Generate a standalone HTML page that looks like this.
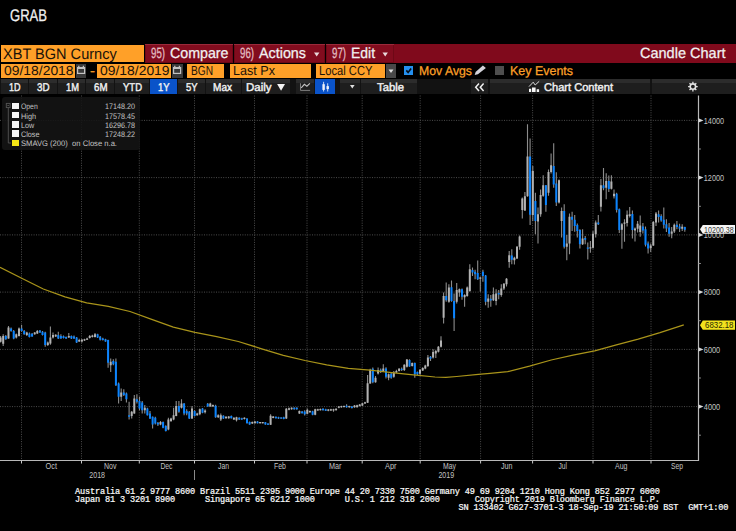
<!DOCTYPE html>
<html><head><meta charset="utf-8"><title>GRAB</title>
<style>
html,body{margin:0;padding:0;background:#000;}
body{width:736px;height:531px;position:relative;overflow:hidden;font-family:"Liberation Sans",sans-serif;}
.b{position:absolute;}
.t{position:absolute;line-height:1;text-rendering:geometricPrecision;white-space:nowrap;transform-origin:0 0;display:inline-block;}
#foot{position:absolute;left:75px;top:487.9px;margin:0;font-family:"Liberation Mono",monospace;font-size:8.6px;line-height:8px;letter-spacing:-0.16px;color:#fafafa;white-space:pre;-webkit-text-stroke:0.22px #fafafa;}
</style></head><body>
<div class="b" style="left:145px;top:44px;width:591px;height:18.7px;background:#800a1c;"></div>
<div class="b" style="left:1px;top:44.9px;width:143px;height:17.1px;background:#ffa028;"></div>
<div class="b" style="left:145px;top:44px;width:87.8px;height:18.7px;background:#820c1e;box-shadow:inset 0 1px 0 #9a2a3a, inset 0 0 0 1px #6e0816;"></div>
<div class="b" style="left:234px;top:44px;width:90.6px;height:18.7px;background:#820c1e;box-shadow:inset 0 1px 0 #9a2a3a, inset 0 0 0 1px #6e0816;"></div>
<div class="b" style="left:326px;top:44px;width:67.5px;height:18.7px;background:#820c1e;box-shadow:inset 0 1px 0 #9a2a3a, inset 0 0 0 1px #6e0816;"></div>
<div class="b" style="left:232.6px;top:44px;width:1.4px;height:18.7px;background:#0a0002;"></div>
<div class="b" style="left:324.6px;top:44px;width:1.4px;height:18.7px;background:#0a0002;"></div>
<div class="b" style="left:1px;top:63.8px;width:74.2px;height:14.1px;background:#ffa028;"></div>
<div class="b" style="left:75.8px;top:63.8px;width:10.5px;height:14.1px;background:#3a3a3a;"></div>
<div class="b" style="left:97px;top:63.8px;width:74px;height:14.1px;background:#ffa028;"></div>
<div class="b" style="left:171.8px;top:63.8px;width:10.9px;height:14.1px;background:#3a3a3a;"></div>
<div class="b" style="left:187.3px;top:63.8px;width:37.2px;height:14.1px;background:#ffa028;"></div>
<div class="b" style="left:229.7px;top:63.8px;width:81.8px;height:14.1px;background:#ffa028;"></div>
<div class="b" style="left:316.4px;top:63.8px;width:69px;height:14.1px;background:#ffa028;"></div>
<div class="b" style="left:386px;top:63.8px;width:10.3px;height:14.1px;background:#484848;"></div>
<div class="b" style="left:404.4px;top:66.2px;width:8.7px;height:8.8px;background:#2490f0;"></div>
<div class="b" style="left:495.3px;top:66.2px;width:9px;height:8.8px;background:#4e4e4e;"></div>
<div class="b" style="left:0px;top:79.4px;width:736px;height:14.9px;background:#121212;"></div>
<div class="b" style="left:1px;top:79.4px;width:27px;height:14.9px;background:linear-gradient(#2c2c2c 0,#2c2c2c 30%,#1e1e1e 30%,#1e1e1e 100%);"></div>
<div class="b" style="left:29px;top:79.4px;width:27.5px;height:14.9px;background:linear-gradient(#2c2c2c 0,#2c2c2c 30%,#1e1e1e 30%,#1e1e1e 100%);"></div>
<div class="b" style="left:57.5px;top:79.4px;width:27.5px;height:14.9px;background:linear-gradient(#2c2c2c 0,#2c2c2c 30%,#1e1e1e 30%,#1e1e1e 100%);"></div>
<div class="b" style="left:86px;top:79.4px;width:28px;height:14.9px;background:linear-gradient(#2c2c2c 0,#2c2c2c 30%,#1e1e1e 30%,#1e1e1e 100%);"></div>
<div class="b" style="left:115px;top:79.4px;width:34px;height:14.9px;background:linear-gradient(#2c2c2c 0,#2c2c2c 30%,#1e1e1e 30%,#1e1e1e 100%);"></div>
<div class="b" style="left:178px;top:79.4px;width:27px;height:14.9px;background:linear-gradient(#2c2c2c 0,#2c2c2c 30%,#1e1e1e 30%,#1e1e1e 100%);"></div>
<div class="b" style="left:206px;top:79.4px;width:34.5px;height:14.9px;background:linear-gradient(#2c2c2c 0,#2c2c2c 30%,#1e1e1e 30%,#1e1e1e 100%);"></div>
<div class="b" style="left:241.5px;top:79.4px;width:48.5px;height:14.9px;background:linear-gradient(#2c2c2c 0,#2c2c2c 30%,#1e1e1e 30%,#1e1e1e 100%);"></div>
<div class="b" style="left:295.5px;top:79.4px;width:18.5px;height:14.9px;background:linear-gradient(#2c2c2c 0,#2c2c2c 30%,#1e1e1e 30%,#1e1e1e 100%);"></div>
<div class="b" style="left:339.5px;top:79.4px;width:20.3px;height:14.9px;background:linear-gradient(#2c2c2c 0,#2c2c2c 30%,#1e1e1e 30%,#1e1e1e 100%);"></div>
<div class="b" style="left:361px;top:79.4px;width:55.5px;height:14.9px;background:linear-gradient(#2c2c2c 0,#2c2c2c 30%,#1e1e1e 30%,#1e1e1e 100%);"></div>
<div class="b" style="left:471px;top:79.4px;width:17px;height:14.9px;background:linear-gradient(#2c2c2c 0,#2c2c2c 30%,#1e1e1e 30%,#1e1e1e 100%);"></div>
<div class="b" style="left:489.5px;top:79.4px;width:160.5px;height:14.9px;background:linear-gradient(#2c2c2c 0,#2c2c2c 30%,#1e1e1e 30%,#1e1e1e 100%);"></div>
<div class="b" style="left:651.5px;top:79.4px;width:84.5px;height:14.9px;background:linear-gradient(#2c2c2c 0,#2c2c2c 30%,#1e1e1e 30%,#1e1e1e 100%);"></div>
<div class="b" style="left:150px;top:79.4px;width:27px;height:14.9px;background:#0a53c9;"></div>
<div class="b" style="left:315.4px;top:79.4px;width:20px;height:14.9px;background:#0a53c9;"></div>
<svg id="chart" width="736" height="531" viewBox="0 0 736 531" style="position:absolute;left:0;top:0"><g stroke="#4c4c4c" stroke-width="1" stroke-dasharray="1 1.4" fill="none"><path d="M21.5 95.5V460.5" /><path d="M81.5 95.5V460.5" /><path d="M139.3 95.5V460.5" /><path d="M194.5 95.5V460.5" /><path d="M254.5 95.5V460.5" /><path d="M307 95.5V460.5" /><path d="M362.2 95.5V460.5" /><path d="M420.2 95.5V460.5" /><path d="M480.6 95.5V460.5" /><path d="M532.6 95.5V460.5" /><path d="M593 95.5V460.5" /><path d="M651 95.5V460.5" /><path d="M0 120.4H698.5" /><path d="M0 177.6H698.5" /><path d="M0 234.9H698.5" /><path d="M0 292.1H698.5" /><path d="M0 349.4H698.5" /><path d="M0 406.6H698.5" /></g><path d="M698.5 95.5V461.0M0 460.5H698.5" stroke="#b8b8b8" stroke-width="1.2" fill="none"/><path d="M21.5 460.5v3M81.5 460.5v3M139.3 460.5v3M194.5 460.5v3M254.5 460.5v3M307 460.5v3M362.2 460.5v3M420.2 460.5v3M480.6 460.5v3M532.6 460.5v3M593 460.5v3M651 460.5v3" stroke="#c8c8c8" stroke-width="1" fill="none"/><path d="M698.5 404.4L703.5 406.6L698.5 408.8Z" fill="#d8d8d8"/><path d="M698.5 347.2L703.5 349.4L698.5 351.6Z" fill="#d8d8d8"/><path d="M698.5 289.9L703.5 292.1L698.5 294.3Z" fill="#d8d8d8"/><path d="M698.5 232.7L703.5 234.9L698.5 237.1Z" fill="#d8d8d8"/><path d="M698.5 175.4L703.5 177.6L698.5 179.8Z" fill="#d8d8d8"/><path d="M698.5 118.2L703.5 120.4L698.5 122.6Z" fill="#d8d8d8"/><path d="M698.5 435.2h2.4M698.5 378.0h2.4M698.5 320.7h2.4M698.5 263.5h2.4M698.5 206.3h2.4M698.5 149.0h2.4" stroke="#8e8e8e" stroke-width="1" fill="none"/><path d="M194.5 470V480" stroke="#8a8a8a" stroke-width="1" fill="none"/><path d="M0.6 335.9V342.6M3.2 334.3V346.0M5.8 335.1V339.8M8.5 325.9V338.8M11.1 327.6V331.8M13.7 330.1V339.3M16.3 333.4V338.4M19.0 327.6V336.4M21.6 325.1V331.8M24.2 330.1V334.8M26.8 331.8V335.9M29.4 332.6V337.6M32.1 333.1V336.8M34.7 332.1V334.8M37.3 330.1V333.9M39.9 330.1V333.1M42.5 330.9V335.6M45.2 331.8V346.8M47.8 341.4V346.0M50.4 326.4V344.8M53.0 332.6V338.4M55.7 334.3V337.1M58.3 331.8V338.9M60.9 334.3V338.8M63.5 335.6V338.4M66.1 336.4V338.9M68.8 333.1V338.1M71.4 335.4V338.9M74.0 335.4V338.9M76.6 337.1V343.1M79.2 338.8V342.1M81.9 338.9V342.6M84.5 338.8V340.9M87.1 337.8V340.1M89.7 335.1V338.4M92.4 334.8V337.6M95.0 333.1V337.6M97.6 333.8V338.1M100.2 335.9V340.4M102.8 337.8V340.6M105.5 338.8V341.8M108.1 339.8V367.7M110.7 358.5V371.9M113.3 359.3V365.2M115.9 358.5V386.1M118.6 382.6V403.5M121.2 388.4V401.0M123.8 389.3V396.0M126.4 392.6V402.6M129.1 401.8V419.4M131.7 411.0V418.5M134.3 395.1V413.8M136.9 394.3V403.5M139.5 396.8V410.2M142.2 401.0V413.5M144.8 405.1V413.5M147.4 407.7V415.5M150.0 411.0V418.9M152.6 416.5V428.5M155.3 416.8V424.4M157.9 421.9V426.0M160.5 421.0V425.2M163.1 421.5V428.2M165.8 425.2V431.4M168.4 417.7V430.2M171.0 417.7V421.9M173.6 407.7V420.2M176.2 401.0V416.3M178.9 401.0V412.7M181.5 399.3V408.5M184.1 403.1V415.2M186.7 409.3V415.2M189.3 411.0V418.9M192.0 406.0V418.9M194.6 410.2V416.5M197.2 412.8V415.7M199.8 408.5V415.2M202.5 408.0V413.2M205.1 409.3V413.5M207.7 403.1V406.8M210.3 402.8V406.8M212.9 404.5V406.8M215.6 404.8V417.7M218.2 414.3V417.9M220.8 413.5V421.0M223.4 415.2V419.0M226.0 416.2V418.7M228.7 416.0V418.7M231.3 415.5V418.5M233.9 417.2V419.9M236.5 416.8V421.5M239.2 417.2V419.9M241.8 417.7V419.9M244.4 417.2V419.4M247.0 418.2V423.5M249.6 421.5V424.7M252.3 421.4V424.0M254.9 421.0V423.5M257.5 421.0V423.5M260.1 421.9V423.5M262.7 421.9V423.5M265.4 421.9V424.7M268.0 423.2V425.0M270.6 414.3V424.9M273.2 416.0V418.2M275.9 416.5V418.5M278.5 416.8V418.9M281.1 417.2V418.9M283.7 416.8V419.2M286.3 408.0V418.9M289.0 407.5V410.2M291.6 407.2V409.7M294.2 407.3V409.7M296.8 407.3V409.7M299.4 410.5V414.0M302.1 411.0V413.5M304.7 410.2V415.5M307.3 408.5V414.3M309.9 410.5V412.7M312.6 410.8V415.2M315.2 408.8V415.2M317.8 408.7V410.8M320.4 408.5V410.5M323.0 408.3V410.5M325.7 408.7V411.0M328.3 409.0V411.2M330.9 408.8V411.0M333.5 408.7V411.8M336.1 408.3V410.5M338.8 406.0V408.2M341.4 405.7V407.7M344.0 405.5V407.5M346.6 404.3V407.8M349.3 405.7V407.7M351.9 406.1V408.4M354.5 405.1V407.7M357.1 404.7V407.6M359.7 403.9V406.6M362.4 402.7V405.9M365.0 401.7V404.1M367.6 375.1V403.1M370.2 368.8V383.8M372.8 367.6V383.2M375.5 376.0V382.7M378.1 367.6V374.6M380.7 368.5V373.1M383.3 364.3V371.8M386.0 367.3V378.5M388.6 373.5V380.2M391.2 372.6V378.8M393.8 371.0V377.7M396.4 369.8V373.1M399.1 368.1V371.5M401.7 367.6V371.0M404.3 364.3V371.0M406.9 358.9V367.6M409.5 359.3V366.8M412.2 362.6V366.5M414.8 362.6V377.7M417.4 371.5V375.1M420.0 369.3V374.8M422.7 367.3V371.0M425.3 364.8V369.3M427.9 355.1V367.1M430.5 355.9V360.9M433.1 349.2V358.4M435.8 350.1V358.1M438.4 345.9V352.6M441.0 336.2V347.6M443.6 292.6V323.6M446.2 282.6V301.8M448.9 284.3V302.7M451.5 280.6V301.8M454.1 293.5V331.1M456.7 283.1V303.5M459.4 288.5V296.8M462.0 288.5V299.8M464.6 294.3V306.8M467.2 286.5V296.8M469.8 264.2V291.8M472.5 267.6V275.9M475.1 269.7V279.3M477.7 260.4V280.1M480.3 276.8V291.8M482.9 269.7V281.8M485.6 275.1V305.2M488.2 294.3V307.7M490.8 295.1V306.8M493.4 287.6V301.0M496.1 289.3V305.2M498.7 290.1V299.3M501.3 284.3V296.8M503.9 283.1V290.1M506.5 278.1V286.5M509.2 251.0V267.7M511.8 249.2V264.2M514.4 256.8V264.4M517.0 246.0V258.9M519.6 235.5V249.8M522.3 197.5V218.4M524.9 192.0V210.9M527.5 124.3V196.7M530.1 138.5V225.1M532.8 166.1V220.9M535.4 192.8V234.3M538.0 207.5V243.5M540.6 189.5V216.7M543.2 175.3V196.7M545.9 185.0V211.7M548.5 169.4V195.8M551.1 153.6V173.6M553.7 143.2V187.8M556.3 172.3V205.9M559.0 179.5V203.4M561.6 207.5V237.6M564.2 204.2V248.5M566.8 235.1V260.2M569.5 213.4V254.3M572.1 211.7V230.9M574.7 215.1V231.8M577.3 223.4V237.6M579.9 229.3V248.5M582.6 229.3V245.1M585.2 236.0V244.3M587.8 242.6V259.4M590.4 241.0V252.7M593.0 230.9V248.5M595.7 220.4V237.6M598.3 215.1V225.1M600.9 179.0V211.4M603.5 168.1V190.3M606.2 173.3V199.2M608.8 175.6V192.0M611.4 175.3V189.5M614.0 189.5V198.4M616.6 192.8V212.6M619.3 208.4V233.1M621.9 223.1V248.8M624.5 219.3V241.8M627.1 210.4V226.5M629.7 207.1V217.6M632.4 210.4V238.5M635.0 227.6V241.5M637.6 220.9V232.6M640.2 215.4V236.8M642.9 223.1V233.5M645.5 226.5V246.5M648.1 241.5V253.5M650.7 243.5V251.9M653.3 220.9V246.0M656.0 212.1V226.0M658.6 210.4V222.6M661.2 214.3V221.8M663.8 207.6V228.5M666.4 219.3V232.1M669.1 223.1V236.8M671.7 227.1V238.2M674.3 223.5V233.1M676.9 220.9V229.3M679.6 223.8V232.1M682.2 224.3V231.0M684.8 226.8V231.8" stroke="#8c8c8c" stroke-width="1.1" fill="none"/>
<path d="M0.6 337.6V341.8M3.2 335.9V343.8M8.5 327.6V338.4M16.3 334.3V337.6M19.0 328.4V335.9M26.8 332.6V335.1M34.7 332.6V334.3M37.3 330.9V333.4M47.8 342.6V345.1M50.4 337.6V343.5M53.0 335.1V337.6M55.7 334.8V336.4M68.8 335.9V337.6M79.2 340.1V341.4M81.9 339.8V341.4M84.5 339.3V340.5M87.1 338.4V339.8M89.7 336.1V338.1M92.4 335.4V337.1M95.0 334.3V337.1M110.7 361.8V365.2M121.2 392.6V396.8M131.7 411.8V416.0M134.3 398.5V413.5M144.8 407.7V410.2M160.5 421.9V424.4M168.4 419.4V429.4M171.0 418.5V421.0M173.6 415.2V419.4M176.2 406.0V416.0M181.5 403.5V407.7M192.0 408.5V418.5M197.2 413.5V415.2M199.8 409.3V414.3M205.1 410.5V412.2M210.3 403.5V406.5M212.9 405.1V406.5M218.2 415.2V417.3M220.8 415.2V419.4M226.0 416.8V418.2M228.7 416.5V418.2M233.9 417.7V419.4M236.5 417.3V420.2M244.4 417.7V418.9M252.3 421.9V423.5M254.9 421.5V423.2M260.1 422.1V423.3M262.7 422.0V423.2M270.6 415.7V424.7M273.2 416.5V417.9M286.3 408.8V418.5M289.0 408.2V409.8M291.6 407.8V409.2M299.4 411.0V413.5M307.3 409.8V413.8M309.9 411.0V412.2M315.2 409.3V414.8M317.8 409.2V410.5M320.4 409.0V410.2M328.3 409.5V410.8M330.9 409.3V410.5M333.5 409.2V410.5M336.1 408.8V410.2M338.8 406.5V407.8M341.4 406.1V407.3M344.0 405.9V407.1M349.3 406.1V407.3M354.5 405.6V407.2M357.1 405.2V407.2M359.7 404.4V406.1M362.4 403.2V405.6M365.0 402.2V403.6M367.6 383.2V402.7M370.2 369.8V383.5M375.5 377.7V382.2M378.1 370.1V373.5M383.3 368.5V371.0M388.6 374.3V377.7M393.8 372.6V376.8M396.4 371.0V372.6M399.1 368.8V371.0M404.3 364.8V370.1M406.9 359.6V366.8M412.2 363.1V366.0M420.0 369.8V373.8M422.7 368.1V370.5M425.3 365.5V368.5M427.9 357.6V366.0M433.1 352.1V357.6M435.8 350.9V353.4M438.4 346.7V351.8M441.0 340.4V346.7M443.6 296.0V317.7M448.9 287.6V301.8M456.7 290.1V301.8M459.4 289.3V292.6M464.6 295.1V297.2M467.2 287.6V296.0M469.8 269.2V291.0M480.3 277.6V278.8M488.2 298.5V301.8M493.4 294.3V300.2M496.1 293.5V301.0M501.3 288.5V295.1M503.9 283.8V288.5M506.5 278.8V284.3M509.2 255.2V261.9M514.4 257.7V260.2M517.0 246.8V258.5M519.6 236.5V246.8M522.3 198.4V210.1M524.9 196.2V210.4M527.5 156.6V196.2M532.8 171.1V215.1M538.0 214.2V221.4M540.6 195.0V214.2M543.2 185.3V195.8M548.5 172.0V192.8M551.1 165.3V172.0M559.0 180.3V202.5M561.6 210.9V220.9M566.8 243.5V246.8M569.5 216.7V243.5M582.6 238.5V244.3M590.4 247.2V248.5M593.0 233.8V247.7M595.7 222.6V234.3M600.9 185.3V206.7M606.2 181.1V187.8M611.4 181.6V188.7M614.0 193.7V196.2M621.9 224.3V229.8M624.5 222.6V223.8M627.1 214.8V223.1M629.7 214.3V215.9M635.0 228.5V230.5M637.6 223.8V228.8M640.2 225.5V232.1M650.7 245.5V248.2M653.3 222.1V245.5M656.0 213.4V222.6M671.7 231.5V233.8M674.3 224.8V231.5M682.2 226.8V228.8" stroke="#b2b2b2" stroke-width="2" fill="none"/>
<path d="M5.8 335.9V339.3M11.1 328.4V330.9M13.7 330.9V338.4M21.6 328.4V330.9M24.2 330.9V334.3M29.4 333.4V337.1M32.1 333.8V336.4M39.9 330.6V332.6M42.5 331.8V335.1M45.2 332.6V345.1M58.3 335.1V338.4M60.9 335.9V338.4M63.5 336.3V337.9M66.1 337.1V338.4M71.4 335.9V338.4M74.0 336.4V338.4M76.6 337.6V342.6M97.6 334.3V337.6M100.2 336.8V339.8M102.8 338.4V340.1M105.5 339.3V341.4M108.1 340.1V362.7M113.3 361.0V364.3M115.9 361.8V385.2M118.6 383.4V396.8M123.8 392.6V395.1M126.4 393.5V399.3M129.1 415.2V416.8M136.9 399.3V401.8M139.5 401.0V408.5M142.2 402.6V410.2M147.4 408.5V415.2M150.0 413.5V418.5M152.6 416.8V424.4M155.3 417.7V423.5M157.9 422.7V424.4M163.1 421.9V427.7M165.8 426.0V431.1M178.9 406.0V411.8M184.1 403.5V413.5M186.7 411.0V413.5M189.3 411.8V418.5M194.6 411.0V416.0M202.5 408.5V412.7M207.7 403.8V406.5M215.6 405.7V417.3M223.4 415.7V418.5M231.3 416.0V418.2M239.2 417.7V419.4M241.8 418.2V419.4M247.0 418.5V423.2M249.6 421.9V424.4M257.5 421.5V423.2M265.4 422.2V424.4M268.0 423.5V424.7M275.9 416.8V418.2M278.5 417.2V418.5M281.1 417.4V418.6M283.7 417.3V418.9M294.2 407.8V409.3M296.8 407.8V409.2M302.1 411.5V413.2M304.7 411.5V414.3M312.6 411.3V414.8M323.0 408.8V410.2M325.7 409.2V410.7M346.6 405.7V407.3M351.9 406.6V408.1M372.8 368.8V382.2M380.7 369.8V372.1M386.0 368.5V376.8M391.2 373.8V377.7M401.7 368.8V370.1M409.5 360.1V366.5M414.8 363.1V374.3M417.4 372.1V374.3M430.5 356.8V358.8M446.2 296.0V300.2M451.5 287.3V301.0M454.1 301.0V318.2M462.0 289.3V296.8M472.5 270.1V272.6M475.1 271.8V274.3M477.7 273.1V279.3M482.9 271.8V275.9M485.6 275.4V301.8M490.8 298.8V300.5M498.7 293.1V294.5M511.8 255.4V259.7M530.1 156.6V214.7M535.4 200.9V220.9M545.9 185.3V205.0M553.7 166.1V184.5M556.3 183.6V202.5M564.2 210.9V246.8M572.1 216.7V219.7M574.7 219.7V225.9M577.3 225.1V230.9M579.9 230.1V244.3M585.2 238.1V239.8M587.8 247.6V248.8M598.3 222.6V224.3M603.5 185.3V188.3M608.8 181.1V189.0M616.6 193.7V210.1M619.3 209.2V230.1M632.4 213.9V230.1M642.9 226.5V230.5M645.5 229.3V244.8M648.1 243.5V248.5M658.6 214.3V217.1M661.2 215.9V220.4M663.8 219.8V224.8M666.4 224.3V228.5M669.1 227.6V233.8M676.9 224.8V227.1M679.6 226.5V228.8M684.8 227.1V229.8" stroke="#0a84ff" stroke-width="2" fill="none"/><path d="M0.0 267.3 L21.7 278.2 L43.3 289.0 L65.0 296.8 L86.7 302.9 L108.3 306.3 L130.0 311.5 L151.7 319.3 L173.3 327.1 L195.0 332.3 L216.7 336.7 L238.3 341.5 L261.7 348.8 L283.3 355.3 L305.0 360.5 L326.7 364.8 L348.3 368.3 L370.0 370.2 L391.7 372.6 L413.3 374.8 L435.0 377.0 L445.8 377.4 L456.7 376.5 L478.3 374.4 L490.0 373.3 L507.7 371.7 L529.5 366.1 L551.2 360.0 L573.0 355.2 L594.7 350.9 L616.4 344.8 L638.2 339.1 L660.0 332.6 L683.8 324.8" stroke="#a9941a" stroke-width="1.25" fill="none" stroke-linejoin="round"/><g fill="#c2c2c2" font-family="Liberation Sans, sans-serif" font-size="8.5"><text x="703.8" y="123.7" textLength="20.2" lengthAdjust="spacingAndGlyphs">14000</text><text x="703.8" y="180.9" textLength="20.2" lengthAdjust="spacingAndGlyphs">12000</text><text x="703.8" y="238.2" textLength="20.2" lengthAdjust="spacingAndGlyphs">10000</text><text x="703.8" y="295.4" textLength="16.4" lengthAdjust="spacingAndGlyphs">8000</text><text x="703.8" y="352.7" textLength="16.4" lengthAdjust="spacingAndGlyphs">6000</text><text x="703.8" y="409.9" textLength="16.4" lengthAdjust="spacingAndGlyphs">4000</text><text x="45.5" y="469.3" textLength="11.5" lengthAdjust="spacingAndGlyphs">Oct</text><text x="104" y="469.3" textLength="12.5" lengthAdjust="spacingAndGlyphs">Nov</text><text x="160.5" y="469.3" textLength="12.0" lengthAdjust="spacingAndGlyphs">Dec</text><text x="218" y="469.3" textLength="11" lengthAdjust="spacingAndGlyphs">Jan</text><text x="274" y="469.3" textLength="12" lengthAdjust="spacingAndGlyphs">Feb</text><text x="329" y="469.3" textLength="12.5" lengthAdjust="spacingAndGlyphs">Mar</text><text x="385" y="469.3" textLength="11.5" lengthAdjust="spacingAndGlyphs">Apr</text><text x="443" y="469.3" textLength="13" lengthAdjust="spacingAndGlyphs">May</text><text x="501" y="469.3" textLength="11.5" lengthAdjust="spacingAndGlyphs">Jun</text><text x="558.5" y="469.3" textLength="8.5" lengthAdjust="spacingAndGlyphs">Jul</text><text x="615" y="469.3" textLength="12.5" lengthAdjust="spacingAndGlyphs">Aug</text><text x="671" y="469.3" textLength="12" lengthAdjust="spacingAndGlyphs">Sep</text><text x="89.3" y="478.3" textLength="15.7" lengthAdjust="spacingAndGlyphs">2018</text><text x="438.4" y="478.3" textLength="15.7" lengthAdjust="spacingAndGlyphs">2019</text></g><path d="M700 229.3L702.8 224.9H735V233.7H702.8Z" fill="#f4f4f4"/>
<text x="704" y="232.5" textLength="29.7" lengthAdjust="spacingAndGlyphs" font-family="Liberation Sans, sans-serif" font-size="8.6" fill="#3a3a3a">10200.38</text>
<path d="M700 325.2L702.8 320.6H735V329.8H702.8Z" fill="#f2e21e"/>
<text x="705" y="328.4" textLength="28.5" lengthAdjust="spacingAndGlyphs" font-family="Liberation Sans, sans-serif" font-size="8.6" fill="#2a2a00">6832.18</text></svg>
<div class="b" style="left:2px;top:97px;width:137.8px;height:53.4px;background:rgba(21,21,21,0.88);border-radius:3px;"></div>
<div class="b" style="left:11.8px;top:102.5px;width:7.3px;height:6.6px;background:#f6f6f6;"></div>
<div class="b" style="left:11.8px;top:111.75px;width:7.3px;height:6.6px;background:#f6f6f6;"></div>
<div class="b" style="left:11.8px;top:121px;width:7.3px;height:6.6px;background:#f6f6f6;"></div>
<div class="b" style="left:11.8px;top:130.25px;width:7.3px;height:6.6px;background:#f6f6f6;"></div>
<div class="b" style="left:11.8px;top:139.5px;width:7.3px;height:6.6px;background:#f5e616;"></div>
<svg width="736" height="531" viewBox="0 0 736 531" style="position:absolute;left:0;top:0">
<!-- dropdown arrows row1 -->
<path d="M314 52.5h5.4l-2.7 4z M382.5 52.5h5.4l-2.7 4z" fill="#e8d8da"/>
<!-- calendar icons -->
<g fill="#3a3a3a" stroke="#c2c2c2" stroke-width="1.2"><rect x="77.6" y="67.6" width="7" height="5.8"/><rect x="173.6" y="67.6" width="7" height="5.8"/></g>
<path d="M78.8 65.8v2.2M83.4 65.8v2.2M174.8 65.8v2.2M179.4 65.8v2.2M77.6 68.3h7M173.6 68.3h7" stroke="#c2c2c2" stroke-width="1.3" fill="none"/>
<!-- local ccy dropdown -->
<path d="M388.5 69.5h5l-2.5 3.6z" fill="#e0e0e0"/>
<!-- check -->
<path d="M406.3 70.4l1.8 2l3-4" stroke="#04101e" stroke-width="1.6" fill="none"/>
<!-- pencil -->
<path d="M474.7 75.1L475.6 72.1L482.9 65.4L485.9 68.1L477.9 74.3Z" fill="#d2d2da"/>
<!-- Daily triangle -->
<path d="M277.1 83.9h7.9l-3.95 6.9z" fill="#f4f4f4"/>
<!-- line chart icon -->
<path d="M300.5 83.3v7.1h9.6" stroke="#7e7e7e" stroke-width="1" fill="none"/><path d="M301.2 87.9l3.2-3.6l2.5 1.9l3-2.8" stroke="#c4c4c4" stroke-width="1.1" fill="none"/>
<!-- candle icon -->
<path d="M323.6 81.8v9.7M327.7 83.3v8.2" stroke="#dfe6f5" stroke-width="0.9"/><rect x="322.4" y="84.2" width="2.4" height="5.7" fill="#eef2fa"/><rect x="326.5" y="86.1" width="2.4" height="3" fill="#eef2fa"/>
<!-- dropdown -->
<path d="M350 85h4.6l-2.3 3.4z" fill="#e0e0e0"/>
<!-- chevrons -->
<path d="M479 83.5l-3.3 3.7l3.3 3.7M483.6 83.5l-3.3 3.7l3.3 3.7" stroke="#f0f0f0" stroke-width="1.5" fill="none"/>
<!-- chart content icon -->
<path d="M529 86.6L533.2 82.2L535.2 85L539.2 81.3" stroke="#dcdcdc" stroke-width="1" fill="none"/><path d="M529 91.9v-3.1h2.2v3.1zM532 91.9v-4.3h3.6v4.3zM536.7 91.9v-2.7h2.4v2.7z" fill="#f6f6f6"/>
<!-- gear -->
<g transform="translate(692.9 86.6)"><circle r="2.7" fill="none" stroke="#e2e2e2" stroke-width="1.6"/><g stroke="#e2e2e2" stroke-width="1.35"><path d="M0 -4.8V-3M0 4.8V3M-4.8 0H-3M4.8 0H3M-3.4 -3.4L-2.1 -2.1M3.4 3.4L2.1 2.1M-3.4 3.4L-2.1 2.1M3.4 -3.4L2.1 -2.1"/></g></g>
<!-- legend tree -->
<g stroke="#555" stroke-width="0.9" fill="none"><rect x="6.3" y="103.4" width="3.8" height="4.2"/><path d="M7.4 105.5h1.6M8.3 107.6V143H11"/></g>
</svg>
<span class="t" id="t0" style="left:10px;top:7.78px;font-size:16.8px;color:#f2f2f2;transform:scaleX(0.7779);-webkit-text-stroke:0.25px;">GRAB</span>
<span class="t" id="t1" style="left:3.3px;top:47.22px;font-size:15.1px;color:#1a1208;transform:scaleX(0.9636);">XBT BGN Curncy</span>
<span class="t" id="t2" style="left:151px;top:47.47px;font-size:14.8px;color:#e2bcc0;transform:scaleX(0.6545);-webkit-text-stroke:0.3px;">95)</span>
<span class="t" id="t3" style="left:169.5px;top:47.47px;font-size:14.8px;color:#f2f2f2;transform:scaleX(0.9612);-webkit-text-stroke:0.25px;">Compare</span>
<span class="t" id="t4" style="left:240px;top:47.47px;font-size:14.8px;color:#e2bcc0;transform:scaleX(0.6545);-webkit-text-stroke:0.3px;">96)</span>
<span class="t" id="t5" style="left:259px;top:47.47px;font-size:14.8px;color:#f2f2f2;transform:scaleX(0.9684);-webkit-text-stroke:0.25px;">Actions</span>
<span class="t" id="t6" style="left:331.5px;top:47.47px;font-size:14.8px;color:#e2bcc0;transform:scaleX(0.6545);-webkit-text-stroke:0.3px;">97)</span>
<span class="t" id="t7" style="left:351px;top:47.47px;font-size:14.8px;color:#f2f2f2;transform:scaleX(0.9412);-webkit-text-stroke:0.25px;">Edit</span>
<span class="t" id="t8" style="left:640px;top:47.47px;font-size:14.8px;color:#f2f2f2;transform:scaleX(0.9806);-webkit-text-stroke:0.25px;">Candle Chart</span>
<span class="t" id="t9" style="left:4.4px;top:63.91px;font-size:13.1px;color:#1a1208;transform:scaleX(1.0618);">09/18/2018</span>
<span class="t" id="t10" style="left:90px;top:65.33px;font-size:12.6px;color:#ffa028;transform:scaleX(1.1896);-webkit-text-stroke:0.25px;">-</span>
<span class="t" id="t11" style="left:100.4px;top:63.91px;font-size:13.1px;color:#1a1208;transform:scaleX(1.0618);">09/18/2019</span>
<span class="t" id="t12" style="left:191px;top:63.91px;font-size:13.1px;color:#1a1208;transform:scaleX(0.7753);">BGN</span>
<span class="t" id="t13" style="left:232.5px;top:63.91px;font-size:13.1px;color:#1a1208;transform:scaleX(0.9617);">Last Px</span>
<span class="t" id="t14" style="left:319px;top:63.91px;font-size:13.1px;color:#1a1208;transform:scaleX(0.8547);">Local CCY</span>
<span class="t" id="t15" style="left:419px;top:65.33px;font-size:12.6px;color:#ffa028;transform:scaleX(0.9747);-webkit-text-stroke:0.25px;">Mov Avgs</span>
<span class="t" id="t16" style="left:510px;top:65.33px;font-size:12.6px;color:#ffa028;transform:scaleX(0.9890);-webkit-text-stroke:0.25px;">Key Events</span>
<span class="t" id="t17" style="left:9px;top:83.43px;font-size:11.3px;color:#f2f2f2;transform:scaleX(0.7957);-webkit-text-stroke:0.42px;">1D</span>
<span class="t" id="t18" style="left:36.5px;top:83.43px;font-size:11.3px;color:#f2f2f2;transform:scaleX(0.8649);-webkit-text-stroke:0.42px;">3D</span>
<span class="t" id="t19" style="left:65.5px;top:83.43px;font-size:11.3px;color:#f2f2f2;transform:scaleX(0.8279);-webkit-text-stroke:0.42px;">1M</span>
<span class="t" id="t20" style="left:94px;top:83.43px;font-size:11.3px;color:#f2f2f2;transform:scaleX(0.8597);-webkit-text-stroke:0.42px;">6M</span>
<span class="t" id="t21" style="left:123px;top:83.43px;font-size:11.3px;color:#f2f2f2;transform:scaleX(0.8404);-webkit-text-stroke:0.42px;">YTD</span>
<span class="t" id="t22" style="left:158px;top:83.43px;font-size:11.3px;color:#f2f2f2;transform:scaleX(0.8316);-webkit-text-stroke:0.42px;">1Y</span>
<span class="t" id="t23" style="left:185.5px;top:83.43px;font-size:11.3px;color:#f2f2f2;transform:scaleX(0.8316);-webkit-text-stroke:0.42px;">5Y</span>
<span class="t" id="t24" style="left:213px;top:83.43px;font-size:11.3px;color:#f2f2f2;transform:scaleX(0.8902);-webkit-text-stroke:0.42px;">Max</span>
<span class="t" id="t25" style="left:246px;top:83.43px;font-size:11.3px;color:#f2f2f2;transform:scaleX(1.0156);-webkit-text-stroke:0.42px;">Daily</span>
<span class="t" id="t26" style="left:377px;top:83.43px;font-size:11.3px;color:#f2f2f2;transform:scaleX(0.9994);-webkit-text-stroke:0.42px;">Table</span>
<span class="t" id="t27" style="left:544px;top:83.43px;font-size:11.3px;color:#f2f2f2;transform:scaleX(0.9809);-webkit-text-stroke:0.42px;">Chart Content</span>
<span class="t" id="t28" style="left:21.2px;top:103.43px;font-size:8.0px;color:#c4c4c4;transform:scaleX(0.8530);">Open</span>
<span class="t" id="t29" style="left:105px;top:103.43px;font-size:8.0px;color:#c4c4c4;transform:scaleX(0.8989);">17148.20</span>
<span class="t" id="t30" style="left:21.2px;top:112.63px;font-size:8.0px;color:#c4c4c4;transform:scaleX(0.9117);">High</span>
<span class="t" id="t31" style="left:105px;top:112.63px;font-size:8.0px;color:#c4c4c4;transform:scaleX(0.8989);">17578.45</span>
<span class="t" id="t32" style="left:21.2px;top:121.83px;font-size:8.0px;color:#c4c4c4;transform:scaleX(0.8987);">Low</span>
<span class="t" id="t33" style="left:105px;top:121.83px;font-size:8.0px;color:#c4c4c4;transform:scaleX(0.8989);">16296.78</span>
<span class="t" id="t34" style="left:21.2px;top:131.03px;font-size:8.0px;color:#c4c4c4;transform:scaleX(0.9045);">Close</span>
<span class="t" id="t35" style="left:105px;top:131.03px;font-size:8.0px;color:#c4c4c4;transform:scaleX(0.8989);">17248.22</span>
<span class="t" id="t36" style="left:21px;top:140.23px;font-size:8.0px;color:#c4c4c4;transform:scaleX(0.9524);white-space:pre;">SMAVG (200)  on Close n.a.</span>
<pre id="foot">Australia 61 2 9777 8600 Brazil 5511 2395 9000 Europe 44 20 7330 7500 Germany 49 69 9204 1210 Hong Kong 852 2977 6000
Japan 81 3 3201 8900      Singapore 65 6212 1000      U.S. 1 212 318 2000       Copyright 2019 Bloomberg Finance L.P.
<span style="position:relative;left:-1.3px">                                                                             SN 133402 G627-3701-3 18-Sep-19 21:50:09 BST  GMT+1:00</span></pre>
</body></html>
